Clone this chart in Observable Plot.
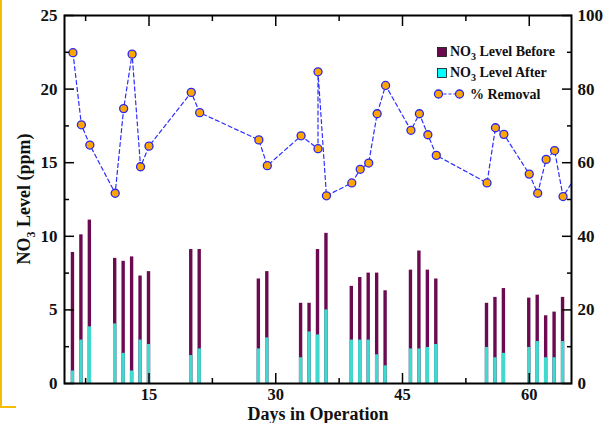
<!DOCTYPE html>
<html><head><meta charset="utf-8">
<script src="https://cdn.jsdelivr.net/npm/d3@7"></script>
<script src="https://cdn.jsdelivr.net/npm/@observablehq/plot@0.6"></script>
<style>
html,body{margin:0;padding:0;background:#fff;}
#wrap{position:relative;width:605px;height:423px;overflow:hidden;}
#edge{position:absolute;left:0;top:-2px;width:14px;height:408px;border-left:2px solid #F5BD00;border-bottom:2px solid #F5BD00;}
</style>
</head><body>
<div id="wrap"><div id="edge"></div></div>
<script>
// Days on which NO3 was measured
const days   = [6,7,8,11,12,13,14,15,20,21,28,29,33,34,35,36,39,40,41,42,43,46,47,48,49,55,56,57,60,61,62,63,64];
// NO3 level before treatment (ppm)
const before = [8.9,10.1,11.1,8.5,8.3,8.6,7.3,7.6,9.1,9.1,7.1,7.6,5.45,5.45,9.1,10.2,6.6,7.2,7.5,7.5,6.3,7.7,9.0,7.7,7.1,5.45,5.85,6.45,5.8,6.0,4.6,4.85,5.85];
// NO3 level after treatment (ppm)
const after  = [0.85,2.95,3.85,4.05,2.05,0.85,2.95,2.65,1.9,2.35,2.35,3.1,1.75,3.5,3.3,5.0,2.95,2.95,2.95,1.95,1.2,2.35,2.35,2.45,2.65,2.45,1.75,2.05,2.45,2.85,1.75,1.75,2.85];
// % removal series (right axis)
const pctDays = [6,7,8,11,12,13,14,15,20,21,28,29,33,35,35,36,39,40,41,42,43,46,47,48,49,55,56,57,60,61,62,63,64,66];
const pct     = [89.9,70.3,64.8,51.7,74.7,89.5,58.9,64.5,79.1,73.6,66.2,59.2,67.3,63.8,84.7,51.0,54.5,58.2,59.9,73.3,81.0,68.8,73.3,67.6,62.0,54.5,69.5,67.7,56.9,51.7,60.9,63.3,50.8,58];
// ticks
const xMajor = [15,30,45,60];
const xMinor = [7.5,22.5,37.5,52.5];
const yMajor = [0,5,10,15,20,25];
const yMinor = [2.5,7.5,12.5,17.5,22.5];
const pctPerUnit = 4; // right axis 0–100 shares the 0–25 frame

const bars = days.map((d,i)=>({day:d, before:before[i], after:after[i]}));
const rem  = pctDays.map((d,i)=>({day:d, pct:pct[i]}));
const hw = 0.2;
const blank = () => "";
const tk = {label:null, stroke:"#000", strokeWidth:1.5, tickFormat:blank};

const plot = Plot.plot({
  width:605, height:423,
  marginLeft:64, marginRight:34, marginTop:15, marginBottom:40,
  x:{domain:[5,65]},
  y:{domain:[0,25]},
  style:{fontFamily:"'Liberation Serif', serif", fontWeight:"bold", fontSize:"17px", color:"#111", background:"white", overflow:"visible"},
  marks:[
    Plot.rect(bars,{x1:d=>d.day-hw, x2:d=>d.day+hw, y1:0, y2:"before", fill:"#6B0A50"}),
    Plot.rect(bars,{x1:d=>d.day-hw, x2:d=>d.day+hw, y1:0, y2:"after", fill:"#3FD9CF"}),
    Plot.line(rem,{x:"day", y:d=>d.pct/pctPerUnit, stroke:"#2D2DFF", strokeWidth:1.2, strokeDasharray:"4,3", clip:true}),
    Plot.dot(rem,{x:"day", y:d=>d.pct/pctPerUnit, r:4, fill:"#FFA500", stroke:"#2828F0", strokeWidth:1.3, clip:true}),
    // inward ticks
    Plot.axisX({...tk, anchor:"bottom", ticks:xMajor, tickSize:-10}),
    Plot.axisX({...tk, anchor:"bottom", ticks:xMinor, tickSize:-5}),
    Plot.axisX({...tk, anchor:"top", ticks:xMajor, tickSize:-10}),
    Plot.axisX({...tk, anchor:"top", ticks:xMinor, tickSize:-5}),
    Plot.axisY({...tk, anchor:"left", ticks:yMajor, tickSize:-10}),
    Plot.axisY({...tk, anchor:"left", ticks:yMinor, tickSize:-5}),
    Plot.axisY({...tk, anchor:"right", ticks:yMajor, tickSize:-10}),
    Plot.axisY({...tk, anchor:"right", ticks:yMinor, tickSize:-5}),
    // labels
    Plot.axisX({anchor:"bottom", ticks:xMajor, tickSize:0, tickPadding:5, label:null, fontSize:16.5, fontWeight:"bold"}),
    Plot.axisY({anchor:"left", ticks:yMajor, tickSize:0, tickPadding:7, label:null, fontSize:17, fontWeight:"bold"}),
    Plot.axisY({anchor:"right", ticks:yMajor, tickSize:0, tickPadding:6, label:null, fontSize:17, fontWeight:"bold", tickFormat:d=>d*pctPerUnit}),
    Plot.frame({stroke:"#000", strokeWidth:2})
  ]
});
document.getElementById("wrap").appendChild(plot);

const svg = d3.select(plot);
const F = "'Liberation Serif', serif";
// axis titles
const yl = svg.append("text").attr("transform","translate(30,199) rotate(-90)")
  .attr("text-anchor","middle").attr("font-family",F).attr("font-weight","bold").attr("font-size",18).attr("fill","#111");
yl.append("tspan").text("NO");
yl.append("tspan").attr("dy",5).attr("font-size",12).text("3");
yl.append("tspan").attr("dy",-5).text(" Level (ppm)");
svg.append("text").attr("x",318).attr("y",420).attr("text-anchor","middle")
  .attr("font-family",F).attr("font-weight","bold").attr("font-size",18).attr("fill","#111").text("Days in Operation");

// legend
const lg = svg.append("g").attr("font-family",F).attr("font-weight","bold").attr("font-size",14).attr("fill","#111").attr("text-anchor","start");
const rows = [{y:56, c:"#6B0A50", t:"Level Before"},{y:77, c:"#00FFFF", t:"Level After"}];
rows.forEach(r=>{
  lg.append("rect").attr("x",437.5).attr("y",r.y-8.5).attr("width",9).attr("height",9).attr("fill",r.c).attr("stroke","#111").attr("stroke-width",0.8);
  const t = lg.append("text").attr("x",450).attr("y",r.y).attr("text-anchor","start");
  t.append("tspan").text("NO");
  t.append("tspan").attr("dy",4).attr("font-size",10).text("3");
  t.append("tspan").attr("dy",-4).text(" " + r.t);
});
lg.append("line").attr("x1",438.5).attr("x2",459.5).attr("y1",94).attr("y2",94).attr("stroke","#2D2DFF").attr("stroke-width",1.2).attr("stroke-dasharray","3,2");
[438.5,459.5].forEach(x=>lg.append("circle").attr("cx",x).attr("cy",94).attr("r",4).attr("fill","#FFA500").attr("stroke","#2828F0").attr("stroke-width",1.3));
lg.append("text").attr("x",470).attr("y",99).attr("text-anchor","start").text("% Removal");
</script>
</body></html>
